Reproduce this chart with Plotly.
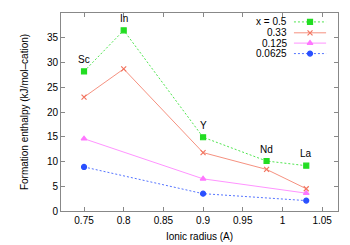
import plotly.graph_objects as go

radius = [0.75, 0.8, 0.9, 0.98, 1.03]
x05 = [28.2, 36.5, 14.9, 10.1, 9.15]
x033 = [23.0, 28.7, 11.8, 8.4, 4.5]
r_small = [0.75, 0.9, 1.03]
x0125 = [14.6, 6.5, 3.6]
x00625 = [8.9, 3.5, 2.1]
elements = ["Sc", "In", "Y", "Nd", "La"]
legend_names = ["x = 0.5", "0.33", "0.125", "0.0625"]

green = "#22dd22"
red = "#f27560"
magenta = "#ff77ff"
blue = "#2a50ff"
font = "Liberation Sans, Arial, sans-serif"

series = [
    (radius, x05, green, "2px,2px", "square", 5),
    (radius, x033, red, "solid", "x-thin-open", 5),
    (r_small, x0125, magenta, "solid", "triangle-up", 5),
    (r_small, x00625, blue, "2px,2px", "circle", 5),
]

fig = go.Figure()
for (xs, ys, c, dash, sym, sz) in series:
    fig.add_trace(go.Scatter(
        x=xs, y=ys, mode="lines+markers",
        line=dict(color=c, width=0.8, dash=dash),
        marker=dict(symbol=sym, size=sz, color=c, line=dict(color=c, width=1.2)),
        showlegend=False, cliponaxis=False))

# element labels above x=0.5 points
for xv, yv, name in zip(radius, x05, elements):
    fig.add_annotation(x=xv, y=yv, text=name, showarrow=False, yshift=12,
                       font=dict(family=font, size=10, color="#000"))

# custom legend (gnuplot-style: text right, sample on the right)
leg_y = [0.955, 0.9, 0.848, 0.795]
for i, (name, (xs, ys, c, dash, sym, sz)) in enumerate(zip(legend_names, series)):
    fig.add_annotation(xref="paper", yref="paper", x=0.822, y=leg_y[i], text=name,
                       xanchor="right", yanchor="middle", showarrow=False,
                       font=dict(family=font, size=10, color="#000"))
    fig.add_trace(go.Scatter(
        x=[0.841, 0.899, 0.957], y=[leg_y[i]] * 3, xaxis="x2", yaxis="y2",
        mode="lines", line=dict(color=c, width=0.8, dash=dash),
        showlegend=False, hoverinfo="skip"))
    fig.add_trace(go.Scatter(
        x=[0.899], y=[leg_y[i]], xaxis="x2", yaxis="y2", mode="markers",
        marker=dict(symbol=sym, size=sz, color=c, line=dict(color=c, width=1.2)),
        showlegend=False, hoverinfo="skip"))

axis_common = dict(showgrid=False, zeroline=False, showline=True, mirror="ticks",
                   linecolor="#888", linewidth=1, ticks="inside", ticklen=4,
                   tickcolor="#888", automargin=False,
                   tickfont=dict(family=font, size=10, color="#000"))

# the page body has an 8px default margin; compensate in the figure size/margins
fig.update_layout(
    width=342, height=237,
    margin=dict(l=53, r=12, t=5, b=34),
    paper_bgcolor="white", plot_bgcolor="white",
    xaxis=dict(range=[0.721, 1.07], tickvals=[0.75, 0.8, 0.85, 0.9, 0.95, 1, 1.05],
               ticktext=["0.75", "0.8", "0.85", "0.9", "0.95", "1", "1.05"],
               title=dict(text="Ionic radius (A)", standoff=7,
                          font=dict(family=font, size=10, color="#000")),
               **axis_common),
    yaxis=dict(range=[0, 40], dtick=5,
               title=dict(text="Formation enthalpy (kJ/mol\u2013cation)", standoff=16,
                          font=dict(family=font, size=10, color="#000")),
               **axis_common),
    xaxis2=dict(range=[0, 1], overlaying="x", visible=False, fixedrange=True),
    yaxis2=dict(range=[0, 1], overlaying="y", visible=False, fixedrange=True),
)

fig.write_html("out.html")
